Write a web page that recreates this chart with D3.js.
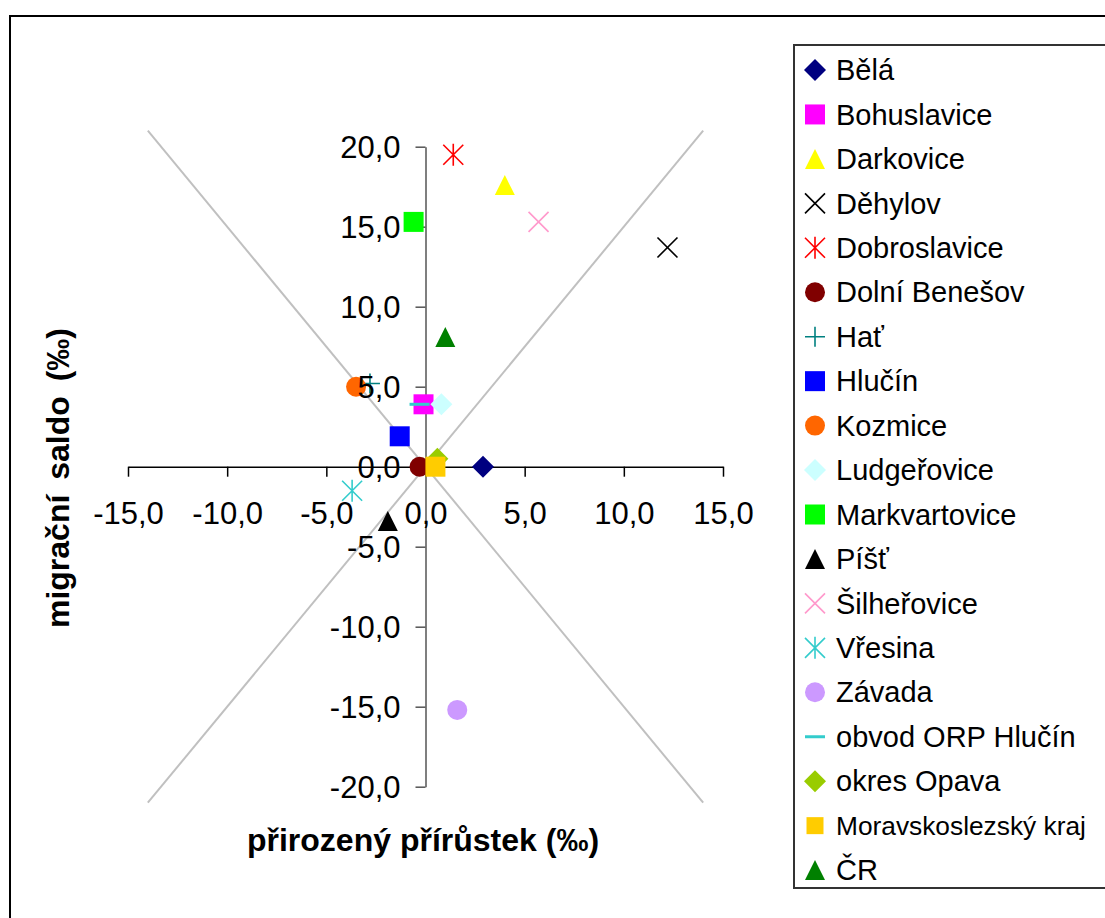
<!DOCTYPE html>
<html lang="cs">
<head>
  <meta charset="UTF-8">
  <title>Přirozený přírůstek a migrační saldo</title>
  <style>
    body { margin: 0; background: #fff; }
    svg { display: block; font-family: "Liberation Sans", Arial, sans-serif; }
  </style>
</head>
<body>
  <svg></svg>
  <script src="https://cdn.jsdelivr.net/npm/d3@7"></script>
  <script>
    // obce a souhrnné celky
    var names = ["Bělá", "Bohuslavice", "Darkovice", "Děhylov", "Dobroslavice", "Dolní Benešov",
      "Hať", "Hlučín", "Kozmice", "Ludgeřovice", "Markvartovice", "Píšť", "Šilheřovice",
      "Vřesina", "Závada", "obvod ORP Hlučín", "okres Opava", "Moravskoslezský kraj", "ČR"]
    // přirozený přírůstek (‰)
    var prirustek = [2.9, -0.1, 4.0, 12.2, 1.4, -0.3, -2.8, -1.3, -3.5, 0.8, -0.6, -1.9, 5.7,
      -3.7, 1.6, -0.3, 0.6, 0.5, 1.0]
    // migrační saldo (‰)
    var saldo = [0.0, 3.9, 17.6, 13.7, 19.5, 0.0, 5.2, 1.9, 5.0, 3.9, 15.3, -3.4, 15.3,
      -1.5, -15.2, 3.9, 0.5, 0.0, 8.1]
    var markers = ["diamond", "square", "triangle", "x", "star", "circle", "plus", "square",
      "circle", "diamond", "square", "triangle", "x", "star", "circle", "dash", "diamond", "square", "triangle"]
    var colors = ["#000080", "#FF00FF", "#FFFF00", "#000000", "#FF0000", "#800000", "#008080",
      "#0000FF", "#FF6600", "#CCFFFF", "#00FF00", "#000000", "#FF99CC", "#33CCCC", "#CC99FF",
      "#33CCCC", "#99CC00", "#FFCC00", "#008000"]
    var xTicks = [-15, -10, -5, 0, 5, 10, 15]
    var yTicks = [-20, -15, -10, -5, 0, 5, 10, 15, 20]
    // pomocné přímky y = 1,5x a y = -1,5x
    var guideLines = [[[-14, 21], [14, -21]], [[-14, -21], [14, 21]]]

    var width = 1105
    var height = 918
    var svg = d3.select("svg").attr("width", width).attr("height", height)

    var x = d3.scaleLinear().domain([-15, 15]).range([128, 723])
    var y = d3.scaleLinear().domain([-20, 20]).range([786.7, 146.7])
    var fmt = d => d3.format(".1f")(d).replace(".", ",").replace("−", "-")

    // rám grafu
    svg.append("rect")
      .attr("x", 10).attr("y", 16)
      .attr("width", 1110).attr("height", 920)
      .attr("fill", "none").attr("stroke", "#000").attr("stroke-width", 2)

    // pomocné přímky
    svg.selectAll(".guide")
      .data(guideLines)
      .join("line")
      .attr("x1", d => x(d[0][0])).attr("y1", d => y(d[0][1]))
      .attr("x2", d => x(d[1][0])).attr("y2", d => y(d[1][1]))
      .attr("stroke", "#C0C0C0").attr("stroke-width", 2)

    // osy - čáry
    var xAxis = svg.append("g")
      .attr("transform", `translate(0, ${y(0)})`)
      .call(d3.axisBottom(x).tickValues(xTicks).tickSize(10).tickSizeOuter(0).tickFormat(""))
    xAxis.selectAll("path, line").attr("stroke", "#000").attr("stroke-width", 1.5)
    var yAxis = svg.append("g")
      .attr("transform", `translate(${x(0)}, 0)`)
      .call(d3.axisLeft(y).tickValues(yTicks).tickSize(10).tickSizeOuter(0).tickFormat(""))
    yAxis.selectAll("path, line").attr("stroke", "#555").attr("stroke-width", 1.5)

    function markerPath(type, s) {
      var h = s / 2
      switch (type) {
        case "diamond": return `M0,${-h - 1}L${h + 1},0L0,${h + 1}L${-h - 1},0Z`
        case "square": return `M${-h},${-h}H${h}V${h}H${-h}Z`
        case "triangle": return `M0,${-h}L${h},${h}L${-h},${h}Z`
        case "x": return `M${-h},${-h}L${h},${h}M${h},${-h}L${-h},${h}`
        case "star": return `M${-h},${-h}L${h},${h}M${h},${-h}L${-h},${h}M0,${-h - 1}V${h + 1}`
        case "plus": return `M${-h},0H${h}M0,${-h}V${h}`
        case "dash": return `M${-h},0H${h}`
      }
    }
    function drawMarker(g, type, color, s) {
      if (type === "circle") {
        g.append("circle").attr("r", s / 2).attr("fill", color)
      } else if (type === "x" || type === "star" || type === "plus") {
        g.append("path").attr("d", markerPath(type, s)).attr("fill", "none")
          .attr("stroke", color).attr("stroke-width", 1.6)
      } else if (type === "dash") {
        g.append("path").attr("d", markerPath(type, s)).attr("fill", "none")
          .attr("stroke", color).attr("stroke-width", 3)
      } else {
        g.append("path").attr("d", markerPath(type, s)).attr("fill", color)
      }
    }

    // body
    var pts = names.map((n, i) => ({ name: n, px: prirustek[i], sy: saldo[i], m: markers[i], c: colors[i] }))
    svg.selectAll(".pt")
      .data(pts)
      .join("g")
      .attr("class", "pt")
      .attr("transform", d => `translate(${x(d.px)}, ${y(d.sy)})`)
      .each(function (d) { drawMarker(d3.select(this), d.m, d.c, 20) })

    // popisky os (nad body)
    var xLab = svg.append("g")
      .attr("transform", `translate(0, ${y(0)})`)
      .call(d3.axisBottom(x).tickValues(xTicks).tickSize(0).tickFormat(fmt))
    xLab.select(".domain").remove()
    xLab.selectAll("text").attr("y", 46).attr("dy", "0.35em")
      .attr("font-size", 31).attr("font-family", "Liberation Sans, Arial, sans-serif").attr("fill", "#000")
    var yLab = svg.append("g")
      .attr("transform", `translate(${x(0)}, 0)`)
      .call(d3.axisLeft(y).tickValues(yTicks).tickSize(0).tickFormat(fmt))
    yLab.select(".domain").remove()
    yLab.selectAll("text").attr("x", -25).attr("dy", "0.35em")
      .attr("font-size", 31).attr("font-family", "Liberation Sans, Arial, sans-serif").attr("fill", "#000")

    // názvy os
    svg.append("text")
      .attr("x", 423).attr("y", 840).attr("dy", "0.35em")
      .attr("text-anchor", "middle").attr("font-size", 32).attr("font-weight", "bold")
      .text("přirozený přírůstek (‰)")
    svg.append("text")
      .attr("transform", "translate(58, 478) rotate(-90)")
      .attr("dy", "0.35em")
      .attr("text-anchor", "middle").attr("font-size", 32).attr("font-weight", "bold")
      .attr("word-spacing", 6)
      .text("migrační saldo (‰)")

    // legenda
    svg.append("rect")
      .attr("x", 794).attr("y", 45).attr("width", 330).attr("height", 843)
      .attr("fill", "#fff").attr("stroke", "#333").attr("stroke-width", 2)
    var leg = svg.selectAll(".leg")
      .data(pts)
      .join("g")
      .attr("class", "leg")
      .attr("transform", (d, i) => `translate(815, ${70 + i * 44.45})`)
    leg.each(function (d) { drawMarker(d3.select(this), d.m, d.c, d.name.length > 16 ? 17 : 20) })
    leg.append("text")
      .attr("x", 21).attr("dy", "0.35em")
      .attr("font-size", 29)
      .text(d => d.name)
      .each(function () {
        var len = this.getComputedTextLength()
        if (len > 250) d3.select(this).attr("font-size", 29 * 250 / len)
      })
  </script>
</body>
</html>
